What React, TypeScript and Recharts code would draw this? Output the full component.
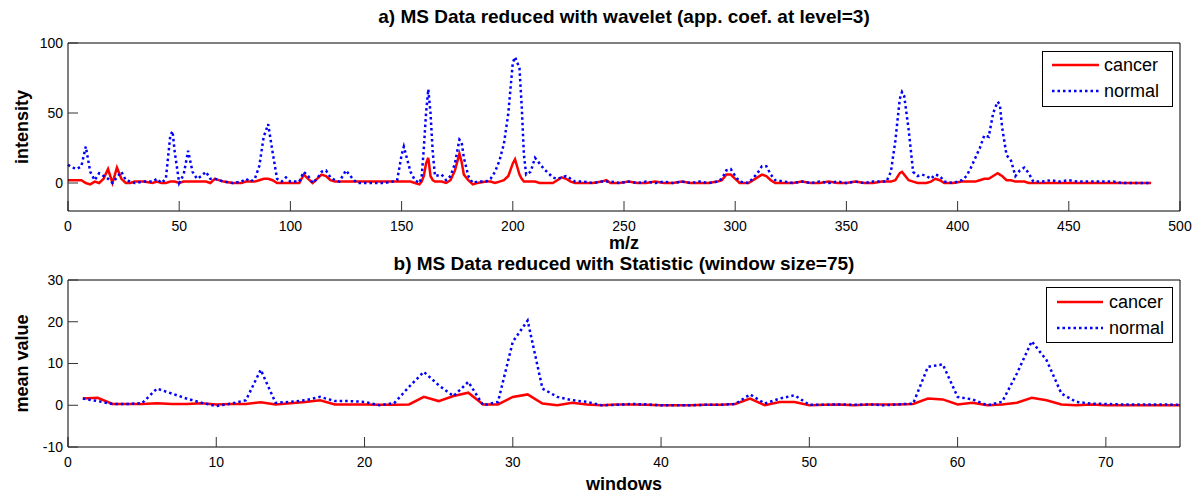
import { LineChart, Line, XAxis, YAxis } from "recharts";

const FONT = "'Liberation Sans', Arial, sans-serif";
const RED = "#ff0000";
const BLUE = "#0000ff";

// a) wavelet approximation, m/z positions
const mz = [
  0, 2, 4, 6, 8, 10, 12, 14, 16, 18,
  20, 22, 24, 26, 28, 30, 34, 38, 40, 42,
  44, 46, 47, 48, 50, 52, 54, 56, 58, 60,
  62, 64, 66, 70, 74, 78, 80, 82, 84, 86,
  88, 90, 92, 94, 96, 98, 100, 104, 106, 108,
  110, 112, 114, 116, 118, 120, 122, 125, 128, 130,
  134, 138, 142, 146, 148, 150, 151, 152, 154, 156,
  158, 159, 160, 161, 162, 163, 164, 165, 168, 170,
  172, 174, 176, 177, 178, 180, 182, 184, 188, 190,
  192, 194, 196, 198, 200, 201, 203, 204, 205, 206,
  208, 210, 212, 214, 216, 218, 220, 222, 224, 226,
  228, 232, 236, 240, 242, 244, 248, 252, 256, 260,
  264, 268, 272, 276, 280, 284, 288, 292, 294, 296,
  298, 300, 302, 306, 310, 312, 314, 316, 318, 322,
  326, 330, 334, 338, 342, 346, 350, 354, 358, 362,
  366, 368, 370, 372, 374, 375, 376, 378, 380, 382,
  384, 386, 388, 390, 392, 394, 398, 402, 404, 406,
  408, 410, 412, 414, 416, 418, 419, 420, 422, 424,
  426, 428, 430, 432, 434, 438, 442, 446, 450, 454,
  458, 462, 466, 470, 474, 478, 482, 487,
];

const cancerA = [
  2, 2, 2, 2, 0, -1, 1, 0, 3, 10,
  0, 11, 3, 0, 0, 1, 1, 0, 1, 0,
  0, 1, 1, 1, 0, 1, 1, 1, 1, 1,
  1, 0, 3, 1, 0, 0, 1, 1, 1, 2,
  3, 3, 2, 0, 0, 0, 0, 0, 6, 3,
  0, 3, 6, 5, 2, 1, 1, 1, 1, 1,
  1, 1, 1, 1, 1, 1, 1, 1, 1, 0,
  -1, 1, 5, 14, 18, 5, 2, 1, 1, 0,
  2, 9, 21, 15, 6, 2, -1, 0, 1, 1,
  0, 1, 2, 5, 14, 17, 6, 3, 1, 1,
  1, 1, 0, 0, 0, 0, 2, 4, 3, 1,
  0, 0, 0, 1, 2, 0, 0, 1, 0, 0,
  1, 0, 0, 1, 0, 0, 0, 1, 2, 6,
  6, 3, 0, 0, 4, 6, 5, 2, 0, 0,
  0, 1, 0, 0, 1, 0, 0, 1, 0, 0,
  1, 1, 1, 2, 7, 8, 6, 2, 1, 0,
  0, 0, 1, 3, 2, 0, 0, 1, 1, 1,
  1, 2, 3, 3, 5, 7, 6, 5, 2, 2,
  1, 1, 1, 0, 0, 0, 0, 0, 0, 0,
  0, 0, 0, 0, 0, 0, 0, 0,
];

const normalA = [
  13, 11, 10, 12, 26, 8, 2, 7, 5, 3,
  0, 4, 8, 2, 1, 0, 1, 1, 3, 0,
  3, 34, 37, 22, 0, 6, 23, 8, 3, 5,
  8, 3, 3, 1, 0, 1, 3, 1, 3, 12,
  33, 42, 22, 3, 1, 4, 1, 1, 8, 5,
  0, 3, 8, 9, 4, 2, 1, 9, 3, 0,
  0, 0, 0, 1, 2, 20, 26, 20, 8, 2,
  0, 4, 25, 50, 67, 50, 22, 5, 6, 2,
  5, 14, 31, 29, 18, 5, 0, 1, 1, 3,
  8, 16, 28, 50, 86, 90, 82, 55, 20, 6,
  8, 18, 14, 10, 7, 4, 3, 4, 5, 3,
  1, 1, 0, 1, 1, 1, 0, 1, 0, 1,
  0, 1, 0, 1, 0, 1, 0, 1, 3, 9,
  10, 5, 1, 0, 7, 12, 12, 6, 2, 1,
  0, 1, 0, 1, 0, 1, 0, 1, 0, 1,
  1, 1, 8, 30, 60, 65, 62, 38, 8, 5,
  6, 5, 3, 6, 5, 1, 0, 2, 5, 11,
  18, 25, 34, 33, 50, 58, 56, 40, 20, 16,
  5, 9, 11, 7, 1, 1, 2, 1, 2, 1,
  1, 1, 1, 1, 0, 0, 0, 0,
];

// b) window means, windows 1..75
const cancerB = [
  1.6, 1.8, 0.3, 0.3, 0.3, 0.5, 0.3, 0.3, 0.5, 0.2,
  0.3, 0.3, 0.7, 0.2, 0.5, 0.8, 1.2, 0.2, 0.2, 0.2,
  0.1, 0.1, 0.2, 2.0, 1.0, 2.2, 3.0, 0.2, 0.2, 2.0,
  2.6, 0.4, 0.0, 0.6, 0.2, 0.0, 0.2, 0.2, 0.1, 0.0,
  0.0, 0.0, 0.1, 0.1, 0.3, 1.6, 0.0, 0.8, 0.8, 0.0,
  0.1, 0.2, 0.0, 0.2, 0.2, 0.2, 0.3, 1.6, 1.4, 0.2,
  0.6, 0.0, 0.2, 0.6, 1.8, 1.2, 0.2, 0.0, 0.2, 0.0,
  0.0, 0.0, 0.0, 0.0, 0.0,
];

const normalB = [
  1.6, 1.0, 0.3, 0.3, 0.5, 4.0, 2.8, 1.6, 0.6, -0.2,
  0.4, 1.2, 8.5, 0.6, 0.8, 1.2, 2.0, 1.0, 1.0, 0.8,
  0.0, 0.5, 4.4, 8.0, 4.8, 2.2, 5.6, 0.0, 0.8, 15.2,
  20.3, 4.0, 2.0, 1.2, 0.8, 0.0, 0.1, 0.3, 0.2, 0.0,
  0.0, 0.0, 0.1, 0.1, 0.3, 2.6, 0.4, 1.6, 2.4, 0.1,
  0.1, 0.2, 0.1, 0.2, 0.0, 0.2, 0.4, 9.2, 9.8, 2.0,
  1.4, 0.0, 0.8, 7.6, 15.3, 10.8, 2.8, 0.8, 0.4, 0.3,
  0.2, 0.2, 0.2, 0.2, 0.1,
];

const seriesNames = ["cancer", "normal"];
const xTicksA = [0, 50, 100, 150, 200, 250, 300, 350, 400, 450, 500];
const yTicksA = [0, 50, 100];
const xTicksB = [0, 10, 20, 30, 40, 50, 60, 70];
const yTicksB = [-10, 0, 10, 20, 30];

const dataA = mz.map((m, i) => ({ mz: m, cancer: cancerA[i], normal: normalA[i] }));
const dataB = cancerB.map((c, i) => ({ w: i + 1, cancer: c, normal: normalB[i] }));

const tickStyle = { fill: "#000", fontSize: 14, fontFamily: FONT };
const labelStyle = { fill: "#000", fontSize: 18, fontWeight: "bold", fontFamily: FONT };

function LegendBox({ left, top, w, h, x0, x1, tx, y0, y1 }: any) {
  return (
    <svg width={w} height={h} style={{ position: "absolute", left, top, display: "block" }}>
      <rect x={0.5} y={0.5} width={w - 1} height={h - 1} fill="#fff" stroke="#000" />
      <line x1={x0} x2={x1} y1={y0} y2={y0} stroke={RED} strokeWidth={2.5} />
      <line x1={x0} x2={x1} y1={y1} y2={y1} stroke={BLUE} strokeWidth={2.5} strokeDasharray="2.5 3" />
      <text x={tx} y={y0} dy="0.35em" fontSize={18} fontFamily={FONT} fill="#000">{seriesNames[0]}</text>
      <text x={tx} y={y1} dy="0.35em" fontSize={18} fontFamily={FONT} fill="#000">{seriesNames[1]}</text>
    </svg>
  );
}

function Title({ text, top }: { text: string; top: number }) {
  return (
    <div
      style={{
        position: "absolute",
        left: 68,
        width: 1112,
        top,
        textAlign: "center",
        fontFamily: FONT,
        fontWeight: "bold",
        fontSize: 19,
        lineHeight: "20px",
      }}
    >
      {text}
    </div>
  );
}

export default function App() {
  return (
    <div style={{ position: "absolute", left: 0, top: 0, width: 1195, height: 493, background: "#fff" }}>
      <div style={{ position: "absolute", left: 0, top: 250 }}>
        <LineChart width={1195} height={243} data={dataB} margin={{ top: 25, right: 10, bottom: 16, left: 8 }}>
          <XAxis
            xAxisId="b"
            dataKey="w"
            type="number"
            domain={[0, 75]}
            ticks={xTicksB}
            height={30}
            tickSize={-10}
            tickMargin={20}
            axisLine={{ stroke: "#000" }}
            tickLine={{ stroke: "#333" }}
            tick={tickStyle}
            label={{ value: "windows", position: "bottom", offset: 0, style: labelStyle }}
          />
          <XAxis
            xAxisId="t"
            orientation="top"
            type="number"
            domain={[0, 75]}
            ticks={xTicksB}
            height={5}
            tickSize={-10}
            axisLine={{ stroke: "#000" }}
            tickLine={{ stroke: "#333" }}
            tick={false}
          />
          <YAxis
            yAxisId="l"
            type="number"
            domain={[-10, 30]}
            ticks={yTicksB}
            width={60}
            tickSize={-10}
            tickMargin={15}
            axisLine={{ stroke: "#000" }}
            tickLine={{ stroke: "#333" }}
            tick={tickStyle}
            label={{ value: "mean value", angle: -90, position: "insideLeft", offset: 14, textAnchor: "middle", style: labelStyle }}
          />
          <YAxis
            yAxisId="r"
            orientation="right"
            type="number"
            domain={[-10, 30]}
            ticks={yTicksB}
            width={5}
            tickSize={-10}
            axisLine={{ stroke: "#000" }}
            tickLine={{ stroke: "#333" }}
            tick={false}
          />
          <Line xAxisId="b" yAxisId="l" type="linear" dataKey="cancer" stroke={RED} strokeWidth={2.5} dot={false} isAnimationActive={false} />
          <Line xAxisId="b" yAxisId="l" type="linear" dataKey="normal" stroke={BLUE} strokeWidth={2.5} strokeDasharray="2.5 3" dot={false} isAnimationActive={false} />
        </LineChart>
      </div>

      <div style={{ position: "absolute", left: 0, top: 0 }}>
        <LineChart width={1195} height={262} data={dataA} margin={{ top: 38, right: 10, bottom: 21, left: 8 }}>
          <XAxis
            xAxisId="b"
            dataKey="mz"
            type="number"
            domain={[0, 500]}
            ticks={xTicksA}
            height={30}
            tickSize={-10}
            tickMargin={20}
            axisLine={{ stroke: "#000" }}
            tickLine={{ stroke: "#333" }}
            tick={tickStyle}
            label={{ value: "m/z", position: "bottom", offset: -5, style: labelStyle }}
          />
          <XAxis
            xAxisId="t"
            orientation="top"
            type="number"
            domain={[0, 500]}
            ticks={xTicksA}
            height={5}
            tickSize={-10}
            axisLine={{ stroke: "#000" }}
            tickLine={{ stroke: "#333" }}
            tick={false}
          />
          <YAxis
            yAxisId="l"
            type="number"
            domain={[-20, 100]}
            ticks={yTicksA}
            width={60}
            tickSize={-10}
            tickMargin={15}
            axisLine={{ stroke: "#000" }}
            tickLine={{ stroke: "#333" }}
            tick={tickStyle}
            label={{ value: "intensity", angle: -90, position: "insideLeft", offset: 14, textAnchor: "middle", style: labelStyle }}
          />
          <YAxis
            yAxisId="r"
            orientation="right"
            type="number"
            domain={[-20, 100]}
            ticks={yTicksA}
            width={5}
            tickSize={-10}
            axisLine={{ stroke: "#000" }}
            tickLine={{ stroke: "#333" }}
            tick={false}
          />
          <Line xAxisId="b" yAxisId="l" type="linear" dataKey="cancer" stroke={RED} strokeWidth={2.5} dot={false} isAnimationActive={false} />
          <Line xAxisId="b" yAxisId="l" type="linear" dataKey="normal" stroke={BLUE} strokeWidth={2.5} strokeDasharray="2.5 3" dot={false} isAnimationActive={false} />
        </LineChart>
      </div>

      <Title text="a) MS Data reduced with wavelet (app. coef. at level=3)" top={7} />
      <Title text="b) MS Data reduced with Statistic (window size=75)" top={254} />
      <LegendBox left={1042} top={51} w={131} h={56} x0={10} x1={57} tx={62} y0={14} y1={40} />
      <LegendBox left={1046} top={287} w={127} h={56} x0={11} x1={57} tx={63} y0={15} y1={41} />
    </div>
  );
}
